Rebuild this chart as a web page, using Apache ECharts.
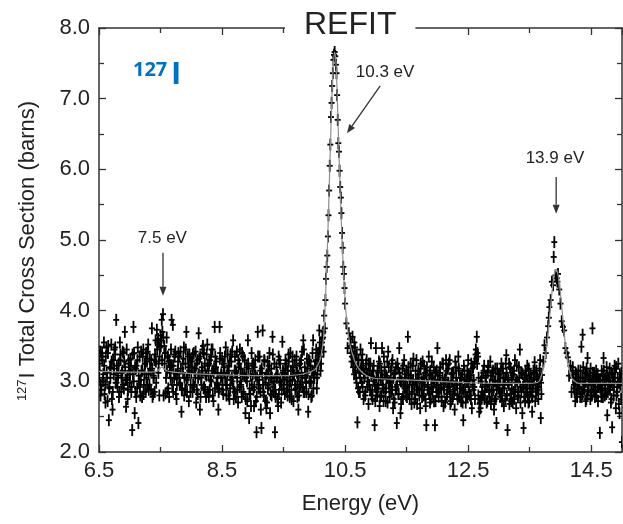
<!DOCTYPE html>
<html><head><meta charset="utf-8">
<script src="https://cdn.jsdelivr.net/npm/echarts@6/dist/echarts.min.js"></script>
<style>html,body{margin:0;padding:0;background:#fff}#c{width:623px;height:524px}</style>
</head><body><div id="c"></div>
<script>
// ---------- DATA (energy eV, total cross section barns) ----------
const measuredLow = [
[6.50,3.05],[6.52,3.42],[6.54,2.88],[6.56,3.30],[6.58,3.55],[6.60,2.95],[6.62,3.48],[6.64,2.72],[6.66,2.45],[6.68,3.20],
[6.70,3.52],[6.72,2.60],[6.74,3.10],[6.76,3.38],[6.78,3.87],[6.80,2.92],[6.82,3.25],[6.84,3.55],[6.86,2.85],[6.88,3.15],
[6.90,3.40],[6.92,3.70],[6.94,2.64],[6.96,3.05],[6.98,3.30],
[7.00,2.98],[7.02,3.22],[7.04,2.31],[7.06,3.77],[7.08,2.55],[7.10,3.18],[7.12,2.90],[7.14,2.41],[7.16,3.35],[7.18,3.02],
[7.20,2.78],[7.22,3.45],[7.24,3.10],[7.26,2.85],[7.28,3.28],[7.30,3.52],[7.32,2.95],[7.34,3.15],[7.36,3.75],[7.38,2.82],
[7.40,3.30],[7.42,3.58],[7.44,3.73],[7.46,3.60],[7.48,2.80],
[7.50,3.65],[7.52,3.87],[7.54,3.95],[7.56,3.50],[7.58,2.83],[7.60,3.62],[7.62,3.35],[7.64,2.78],[7.66,3.20],[7.68,3.87],
[7.70,3.80],[7.72,3.05],[7.74,3.42],[7.76,2.75],[7.78,3.15],[7.80,3.35],[7.82,2.95],[7.84,2.57],[7.86,3.25],[7.88,3.48],
[7.90,2.88],[7.92,3.70],[7.94,3.05],[7.96,2.72],[7.98,3.30],
[8.00,3.12],[8.02,2.85],[8.04,3.40],[8.06,3.18],[8.08,2.70],[8.10,3.30],[8.12,3.68],[8.14,2.60],[8.16,3.05],[8.18,3.45],
[8.20,2.90],[8.22,3.25],[8.24,2.78],[8.26,3.52],[8.28,3.10],[8.30,2.88],[8.32,3.35],[8.34,3.15],[8.36,2.72],[8.38,3.77],
[8.40,3.20],[8.42,2.95],[8.44,2.60],[8.46,3.77],[8.48,3.05],
[8.50,3.30],[8.52,2.82],[8.54,3.12],[8.56,3.48],[8.58,2.95],[8.60,3.22],[8.62,2.75],[8.64,3.38],[8.66,3.05],[8.68,3.58],
[8.70,2.85],[8.72,3.15],[8.74,3.42],[8.76,2.70],[8.78,3.25],[8.80,3.00],[8.82,2.78],[8.84,3.35],[8.86,3.08],[8.88,2.55],
[8.90,3.20],[8.92,3.58],[8.94,2.48],[8.96,2.82],[8.98,3.40],
[9.00,3.10],[9.02,2.65],[9.04,3.30],[9.06,2.28],[9.08,3.70],[9.10,2.90],[9.12,3.15],[9.14,2.34],[9.16,3.72],[9.18,2.80],
[9.20,3.05],[9.22,2.62],[9.24,3.28],[9.26,2.95],[9.28,2.55],[9.30,3.18],[9.32,3.63],[9.34,2.85],[9.36,2.28],[9.38,3.05],
[9.40,2.75],[9.42,3.35],[9.44,2.98],[9.46,2.70],[9.48,3.56],
[9.50,3.10],[9.52,2.82],[9.54,3.25],[9.56,2.95],[9.58,3.38],[9.60,2.78],[9.62,3.15],[9.64,3.02],[9.66,2.72],[9.68,3.30],
[9.70,2.90],[9.72,3.12],[9.74,2.60],[9.76,3.25],[9.78,2.95],[9.80,3.42],[9.82,3.58],[9.84,2.85],[9.86,3.08],[9.88,3.32],
[9.90,2.57],[9.92,3.00],[9.94,3.22],[9.96,2.80],[9.98,3.58],
[10.00,3.05],[10.02,3.28],[10.04,2.90],[10.06,3.40],[10.08,3.72],[10.10,3.15],[10.12,3.48],[10.14,3.62],[10.16,3.93],[10.18,4.15]
];
const measuredLowOdd = [
[6.51,3.25],[6.53,2.95],[6.55,3.40],[6.57,3.10],[6.59,2.82],[6.61,3.35],[6.63,3.05],[6.65,3.50],[6.67,2.90],[6.69,3.18],
[6.71,2.75],[6.73,3.30],[6.75,3.45],[6.77,2.98],[6.79,3.22],[6.81,3.08],[6.83,2.85],[6.85,3.38],[6.87,3.12],[6.89,2.95],
[6.91,3.28],[6.93,3.02],[6.95,3.45],[6.97,2.88],[6.99,3.15],
[7.01,3.32],[7.03,2.92],[7.05,3.10],[7.07,3.40],[7.09,2.85],[7.11,3.22],[7.13,3.48],[7.15,3.00],[7.17,2.80],[7.19,3.15],
[7.21,3.35],[7.23,2.95],[7.25,3.25],[7.27,3.05],[7.29,3.42],[7.31,2.88],[7.33,3.18],[7.35,3.30],[7.37,2.78],[7.39,3.08],
[7.41,3.38],[7.43,2.98],[7.45,3.55],[7.47,3.25],[7.49,3.48],
[7.51,3.58],[7.53,3.70],[7.55,2.80],[7.57,3.40],[7.59,3.05],[7.61,2.85],[7.63,3.28],[7.65,3.12],[7.67,3.45],[7.69,2.95],
[7.71,3.22],[7.73,3.35],[7.75,2.82],[7.77,3.10],[7.79,3.40],[7.81,2.98],[7.83,3.18],[7.85,2.90],[7.87,3.32],[7.89,3.05],
[7.91,3.45],[7.93,2.85],[7.95,3.20],[7.97,3.38],[7.99,2.95],
[8.01,3.28],[8.03,2.95],[8.05,3.15],[8.07,3.42],[8.09,2.88],[8.11,3.05],[8.13,3.32],[8.15,2.78],[8.17,3.20],[8.19,3.50],
[8.21,2.92],[8.23,3.10],[8.25,3.38],[8.27,2.85],[8.29,3.25],[8.31,3.02],[8.33,3.45],[8.35,2.80],[8.37,3.18],[8.39,3.35],
[8.41,2.98],[8.43,3.12],[8.45,2.90],[8.47,3.40],[8.49,3.08],
[8.51,2.95],[8.53,3.25],[8.55,3.05],[8.57,2.80],[8.59,3.38],[8.61,3.15],[8.63,2.90],[8.65,3.28],[8.67,3.00],[8.69,2.75],
[8.71,3.35],[8.73,3.12],[8.75,2.88],[8.77,3.20],[8.79,3.45],[8.81,2.95],[8.83,3.10],[8.85,2.82],[8.87,3.30],[8.89,3.05],
[8.91,2.72],[8.93,3.18],[8.95,2.90],[8.97,2.65],[8.99,3.22],
[9.01,2.88],[9.03,3.20],[9.05,2.72],[9.07,3.05],[9.09,2.95],[9.11,3.35],[9.13,2.60],[9.15,3.12],[9.17,2.85],[9.19,3.28],
[9.21,2.98],[9.23,2.70],[9.25,3.15],[9.27,3.40],[9.29,2.82],[9.31,3.05],[9.33,2.92],[9.35,3.25],[9.37,2.78],[9.39,3.10],
[9.41,2.65],[9.43,3.30],[9.45,3.00],[9.47,2.88],[9.49,3.15],
[9.51,3.02],[9.53,3.30],[9.55,2.85],[9.57,3.15],[9.59,2.95],[9.61,3.40],[9.63,2.75],[9.65,3.20],[9.67,3.08],[9.69,2.88],
[9.71,3.35],[9.73,3.00],[9.75,2.80],[9.77,3.25],[9.79,3.12],[9.81,2.92],[9.83,3.45],[9.85,3.05],[9.87,2.85],[9.89,3.18],
[9.91,3.30],[9.93,2.98],[9.95,2.78],[9.97,3.40],[9.99,3.10],
[10.01,3.20],[10.03,3.45],[10.05,3.10],[10.07,3.30],[10.09,3.55],[10.11,3.25],[10.13,3.60],[10.15,3.42],[10.17,3.75]
];
const measuredLowMid = [
[6.505,3.15],[6.525,2.80],[6.545,3.35],[6.565,3.00],[6.585,3.22],[6.605,2.70],[6.625,3.12],[6.645,3.40],[6.665,2.92],[6.685,3.05],
[6.705,3.28],[6.725,2.85],[6.745,3.18],[6.765,3.48],[6.785,2.98],[6.805,3.12],[6.825,2.78],[6.845,3.30],[6.865,3.05],[6.885,3.42],
[6.905,2.90],[6.925,3.20],[6.945,3.02],[6.965,2.75],[6.985,3.25],
[7.005,3.10],[7.025,2.85],[7.045,3.38],[7.065,3.00],[7.085,3.20],[7.105,2.78],[7.125,3.30],[7.145,3.08],[7.165,2.92],[7.185,3.42],
[7.205,3.15],[7.225,2.82],[7.245,3.25],[7.265,3.40],[7.285,2.95],[7.305,3.10],[7.325,3.32],[7.345,2.88],[7.365,3.18],[7.385,3.05],
[7.405,2.85],[7.425,3.28],[7.445,3.45],[7.465,3.12],[7.485,3.35],
[7.505,3.50],[7.525,3.30],[7.545,3.62],[7.565,3.25],[7.585,3.40],[7.605,3.15],[7.625,2.90],[7.645,3.30],[7.665,3.05],[7.685,3.22],
[7.705,2.85],[7.725,3.38],[7.745,3.10],[7.765,2.95],[7.785,3.28],[7.805,3.05],[7.825,3.42],[7.845,2.88],[7.865,3.12],[7.885,2.80],
[7.905,3.25],[7.925,3.02],[7.945,3.35],[7.965,3.15],[7.985,2.85],
[8.005,3.20],[8.025,3.38],[8.045,2.92],[8.065,3.05],[8.085,3.25],[8.105,2.82],[8.125,3.10],[8.145,3.35],[8.165,2.95],[8.185,3.15],
[8.205,3.40],[8.225,2.88],[8.245,3.08],[8.265,3.22],[8.285,2.78],[8.305,3.30],[8.325,3.00],[8.345,3.45],[8.365,3.12],[8.385,2.90],
[8.405,3.28],[8.425,3.05],[8.445,2.85],[8.465,3.32],[8.485,3.10],
[8.505,2.88],[8.525,3.20],[8.545,3.35],[8.565,2.95],[8.585,3.12],[8.605,2.80],[8.625,3.28],[8.645,3.02],[8.665,3.42],[8.685,2.90],
[8.705,3.15],[8.725,2.78],[8.745,3.05],[8.765,3.30],[8.785,2.92],[8.805,3.18],[8.825,3.40],[8.845,2.85],[8.865,3.10],[8.885,2.75],
[8.905,3.00],[8.925,3.25],[8.945,2.82],[8.965,3.08],[8.985,2.95],
[9.005,3.25],[9.025,2.92],[9.045,3.08],[9.065,2.78],[9.085,3.35],[9.105,3.02],[9.125,2.85],[9.145,3.18],[9.165,2.95],[9.185,3.30],
[9.205,2.72],[9.225,3.10],[9.245,2.90],[9.265,3.22],[9.285,3.05],[9.305,2.80],[9.325,3.38],[9.345,3.00],[9.365,2.88],[9.385,3.20],
[9.405,3.08],[9.425,2.82],[9.445,3.25],[9.465,2.95],[9.485,3.12],
[9.505,2.90],[9.525,3.18],[9.545,3.05],[9.565,2.80],[9.585,3.28],[9.605,3.00],[9.625,2.88],[9.645,3.35],[9.665,3.10],[9.685,2.95],
[9.705,3.22],[9.725,2.78],[9.745,3.08],[9.765,2.92],[9.785,3.30],[9.805,3.05],[9.825,2.85],[9.845,3.20],[9.865,2.98],[9.885,3.12],
[9.905,2.82],[9.925,3.28],[9.945,3.00],[9.965,3.15],[9.985,2.90],
[10.005,3.12],[10.025,3.30],[10.045,3.05],[10.065,3.25],[10.085,3.45],[10.105,3.35],[10.125,3.55],[10.145,3.70]
];
const measuredPeak103 = [
[10.19,4.45],[10.20,4.62],[10.21,4.78],[10.22,5.05],[10.23,5.35],[10.24,5.70],[10.25,6.05],[10.26,6.35],[10.27,6.74],[10.28,6.94],
[10.29,7.18],[10.30,7.36],[10.31,7.55],[10.32,7.62],[10.33,7.66],[10.34,7.60],[10.35,7.48],[10.36,7.36],[10.37,7.05],[10.38,6.70],
[10.39,6.37],[10.40,6.25],[10.41,5.98],[10.42,5.75],[10.43,5.60],[10.44,5.38],[10.45,5.10],[10.46,4.89],[10.47,4.62],[10.48,4.52],
[10.49,4.32],[10.50,4.10],[10.52,3.82],[10.54,3.47],[10.56,3.68],[10.58,3.60]
];
const measuredMid = [
[10.60,3.40],[10.62,3.63],[10.64,3.25],[10.66,3.48],[10.68,3.05],[10.70,2.42],[10.72,3.30],[10.74,2.85],[10.76,3.18],[10.78,3.38],
[10.80,2.75],[10.82,3.10],[10.84,3.25],[10.86,2.92],[10.88,2.68],[10.90,3.15],[10.92,3.54],[10.94,2.88],[10.96,3.05],[10.98,2.38],
[11.00,3.47],[11.02,2.80],[11.04,3.12],[11.06,2.65],[11.08,3.02],[11.10,3.47],[11.12,2.90],[11.14,3.20],[11.16,2.72],[11.18,3.05],
[11.20,3.42],[11.22,2.85],[11.24,2.98],[11.26,3.25],[11.28,2.62],[11.30,3.10],[11.32,2.88],[11.34,2.41],[11.36,3.18],[11.38,3.47],
[11.40,2.55],[11.42,3.00],[11.44,2.78],[11.46,3.30],[11.48,2.92],
[11.50,3.15],[11.52,3.63],[11.54,2.82],[11.56,3.05],[11.58,2.68],[11.60,3.22],[11.62,2.95],[11.64,2.75],[11.66,3.30],[11.68,2.88],
[11.70,3.10],[11.72,2.62],[11.74,3.00],[11.76,3.28],[11.78,2.80],[11.80,3.12],[11.82,2.38],[11.84,2.92],[11.86,3.35],[11.88,2.70],
[11.90,3.05],[11.92,2.85],[11.94,3.20],[11.96,2.38],[11.98,2.95],
[12.00,3.47],[12.02,2.78],[12.04,3.08],[12.06,2.90],[12.08,3.25],[12.10,2.65],[12.12,3.02],[12.14,3.30],[12.16,2.82],[12.18,2.98],
[12.20,3.30],[12.22,2.72],[12.24,3.12],[12.26,2.88],[12.28,2.60],[12.30,3.20],[12.32,2.95],[12.34,3.35],[12.36,2.78],[12.38,3.05],
[12.40,2.88],[12.42,2.45],[12.44,3.15],[12.46,2.70],[12.48,3.00],
[12.50,3.30],[12.52,2.85],[12.54,3.08],[12.56,2.62],[12.58,3.20],[12.60,2.92],[12.62,3.38],[12.64,3.63],[12.66,3.35],[12.68,2.57],
[12.70,2.62],[12.72,3.05],[12.74,2.80],[12.76,3.22],[12.78,2.95],[12.80,2.70],[12.82,3.15],[12.84,2.88],[12.86,3.28],[12.88,2.75],
[12.90,3.02],[12.92,2.60],[12.94,3.18],[12.96,2.41],[12.98,2.95],
[13.00,3.10],[13.02,2.78],[13.04,3.25],[13.06,2.90],[13.08,2.65],[13.10,3.05],[13.12,3.37],[13.14,2.31],[13.16,2.95],[13.18,3.20],
[13.20,2.72],[13.22,3.08],[13.24,2.85],[13.26,3.30],[13.28,2.62],[13.30,3.00],[13.32,2.80],[13.34,3.45],[13.36,3.12],[13.38,2.55],
[13.40,2.34],[13.42,3.05],[13.44,2.90],[13.46,3.22],[13.48,2.70],
[13.50,3.00],[13.52,2.85],[13.54,2.57],[13.56,3.15],[13.58,3.27],[13.60,2.90],[13.62,3.05],[13.64,2.75],[13.66,3.18],[13.68,2.48]
];
const measuredMidOdd = [
[10.59,3.50],[10.61,3.35],[10.63,3.20],[10.65,3.55],[10.67,3.15],[10.69,3.38],[10.71,2.90],[10.73,3.12],[10.75,3.45],[10.77,2.98],
[10.79,3.22],[10.81,3.05],[10.83,2.85],[10.85,3.30],[10.87,3.10],[10.89,2.95],[10.91,3.25],[10.93,2.80],[10.95,3.15],[10.97,3.00],
[10.99,2.72],
[11.01,3.05],[11.03,2.90],[11.05,3.28],[11.07,2.78],[11.09,3.15],[11.11,2.95],[11.13,3.35],[11.15,2.85],[11.17,3.08],[11.19,2.70],
[11.21,3.20],[11.23,3.00],[11.25,2.88],[11.27,3.30],[11.29,2.75],[11.31,3.12],[11.33,2.92],[11.35,3.25],[11.37,2.82],[11.39,3.05],
[11.41,2.68],[11.43,3.18],[11.45,2.95],[11.47,3.10],[11.49,2.80],
[11.51,2.92],[11.53,3.20],[11.55,2.75],[11.57,3.08],[11.59,2.95],[11.61,3.32],[11.63,2.82],[11.65,3.02],[11.67,2.68],[11.69,3.15],
[11.71,2.90],[11.73,3.25],[11.75,2.78],[11.77,3.05],[11.79,2.95],[11.81,2.65],[11.83,3.20],[11.85,2.88],[11.87,3.10],[11.89,2.75],
[11.91,3.28],[11.93,2.92],[11.95,3.00],[11.97,2.72],[11.99,3.15],
[12.01,2.85],[12.03,3.12],[12.05,2.95],[12.07,2.72],[12.09,3.25],[12.11,2.88],[12.13,3.05],[12.15,2.78],[12.17,3.18],[12.19,2.92],
[12.21,2.68],[12.23,3.10],[12.25,3.00],[12.27,2.82],[12.29,3.28],[12.31,2.95],[12.33,2.75],[12.35,3.15],[12.37,2.90],[12.39,3.05],
[12.41,2.70],[12.43,3.22],[12.45,2.85],[12.47,3.00],[12.49,2.78],
[12.51,3.10],[12.53,2.80],[12.55,3.25],[12.57,2.95],[12.59,3.02],[12.61,2.75],[12.63,3.32],[12.65,3.40],[12.67,3.05],[12.69,2.70],
[12.71,2.78],[12.73,2.92],[12.75,3.15],[12.77,2.85],[12.79,3.08],[12.81,2.72],[12.83,3.20],[12.85,2.95],[12.87,2.68],[12.89,3.12],
[12.91,2.88],[12.93,3.00],[12.95,2.75],[12.97,3.18],[12.99,2.90],
[13.01,2.88],[13.03,3.15],[13.05,2.72],[13.07,3.05],[13.09,2.95],[13.11,3.25],[13.13,2.80],[13.15,3.02],[13.17,2.68],[13.19,3.18],
[13.21,2.90],[13.23,3.10],[13.25,2.75],[13.27,2.98],[13.29,3.22],[13.31,2.85],[13.33,3.05],[13.35,2.70],[13.37,3.12],[13.39,2.92],
[13.41,2.78],[13.43,3.15],[13.45,2.85],[13.47,3.00],[13.49,2.72],
[13.51,3.10],[13.53,2.80],[13.55,2.95],[13.57,3.05],[13.59,2.72],[13.61,3.15],[13.63,2.88],[13.65,3.00],[13.67,3.30],[13.69,2.82]
];
const measuredMidMid = [
[10.605,3.28],[10.625,3.42],[10.645,3.10],[10.665,3.32],[10.685,2.98],[10.705,3.20],[10.725,2.85],[10.745,3.05],[10.765,3.30],[10.785,2.92],
[10.805,3.12],[10.825,2.80],[10.845,3.18],[10.865,3.00],[10.885,3.25],[10.905,2.88],[10.925,3.08],[10.945,2.75],[10.965,3.22],[10.985,2.95],
[11.005,2.85],[11.025,3.15],[11.045,2.95],[11.065,3.25],[11.085,2.80],[11.105,3.05],[11.125,2.72],[11.145,3.10],[11.165,2.90],[11.185,3.28],
[11.205,2.98],[11.225,2.78],[11.245,3.15],[11.265,2.88],[11.285,3.05],[11.305,2.70],[11.325,3.20],[11.345,2.95],[11.365,2.82],[11.385,3.12],
[11.405,3.00],[11.425,2.75],[11.445,3.22],[11.465,2.90],[11.485,3.05],
[11.505,2.78],[11.525,3.10],[11.545,2.95],[11.565,3.25],[11.585,2.85],[11.605,3.02],[11.625,2.70],[11.645,3.15],[11.665,2.92],[11.685,3.05],
[11.705,2.80],[11.725,3.18],[11.745,2.88],[11.765,2.98],[11.785,3.22],[11.805,2.75],[11.825,3.08],[11.845,2.95],[11.865,2.82],[11.885,3.15],
[11.905,2.90],[11.925,3.05],[11.945,2.72],[11.965,3.12],[11.985,2.85],
[12.005,3.02],[12.025,2.88],[12.045,3.20],[12.065,2.78],[12.085,3.05],[12.105,2.92],[12.125,2.70],[12.145,3.15],[12.165,2.95],[12.185,3.25],
[12.205,2.85],[12.225,3.00],[12.245,2.75],[12.265,3.12],[12.285,2.90],[12.305,3.05],[12.325,2.80],[12.345,3.18],[12.365,2.98],[12.385,2.72],
[12.405,3.10],[12.425,2.88],[12.445,3.02],[12.465,2.78],[12.485,3.15],
[12.505,2.92],[12.525,3.05],[12.545,2.75],[12.565,3.18],[12.585,2.88],[12.605,3.28],[12.625,3.45],[12.645,3.25],[12.665,2.80],[12.685,2.68],
[12.705,3.00],[12.725,2.85],[12.745,3.12],[12.765,2.75],[12.785,3.05],[12.805,2.92],[12.825,3.22],[12.845,2.78],[12.865,3.08],[12.885,2.85],
[12.905,3.15],[12.925,2.72],[12.945,3.00],[12.965,2.88],[12.985,3.10],
[13.005,2.95],[13.025,3.05],[13.045,2.80],[13.065,3.18],[13.085,2.90],[13.105,2.75],[13.125,3.12],[13.145,2.98],[13.165,3.25],[13.185,2.82],
[13.205,3.05],[13.225,2.70],[13.245,3.15],[13.265,2.88],[13.285,3.02],[13.305,2.78],[13.325,3.20],[13.345,2.92],[13.365,2.85],[13.385,3.10],
[13.405,2.95],[13.425,2.72],[13.445,3.08],[13.465,2.82],[13.485,3.18],
[13.505,2.90],[13.525,3.05],[13.545,2.78],[13.565,2.95],[13.585,3.12],[13.605,2.85],[13.625,3.02],[13.645,2.92],[13.665,3.10],[13.685,2.98]
];
const measuredPeak139 = [
[13.70,3.09],[13.72,3.28],[13.74,3.51],[13.76,3.40],[13.78,3.62],[13.80,3.78],[13.81,3.90],[13.82,4.05],[13.84,4.15],[13.86,4.41],
[13.88,4.36],[13.89,4.76],[13.90,4.97],[13.92,4.50],[13.94,4.46],[13.95,4.41],[13.96,4.52],[13.98,4.30],[14.00,4.10],[14.02,3.85],
[14.04,3.77],[14.06,3.72],[14.08,3.47],[14.10,3.40],[14.12,3.34],[14.14,3.08],[14.16,3.22],[14.18,2.85]
];
const measuredHigh = [
[14.20,3.20],[14.22,2.95],[14.24,2.72],[14.26,3.10],[14.28,2.88],[14.30,3.00],[14.32,2.78],[14.34,3.49],[14.36,3.66],[14.38,2.92],
[14.40,3.12],[14.42,2.75],[14.44,3.33],[14.46,2.95],[14.48,3.05],
[14.50,2.85],[14.52,3.75],[14.54,3.08],[14.56,2.78],[14.58,3.15],[14.60,2.92],[14.62,3.02],[14.64,2.27],[14.66,2.88],[14.68,3.10],
[14.70,3.33],[14.72,2.80],[14.74,3.05],[14.76,2.52],[14.78,2.95],[14.80,3.18],[14.82,2.70],[14.84,2.35],[14.86,3.00],[14.88,3.22],
[14.90,2.62],[14.92,2.92],[14.94,3.25],[14.96,2.55],[14.98,3.05],[15.00,2.14]
];
const measuredHighOdd = [
[14.19,3.15],[14.21,3.05],[14.23,2.85],[14.25,3.00],[14.27,2.78],[14.29,3.15],[14.31,2.90],[14.33,3.05],[14.35,2.82],[14.37,3.20],
[14.39,2.95],[14.41,2.72],[14.43,3.10],[14.45,2.88],[14.47,3.02],[14.49,3.18],[14.51,2.80],[14.53,2.95],[14.55,3.12],[14.57,2.85],
[14.59,3.05],[14.61,2.72],[14.63,3.00],[14.65,2.90],[14.67,3.15],[14.69,2.78],[14.71,3.02],[14.73,2.88],[14.75,3.20],[14.77,2.85],
[14.79,3.05],[14.81,2.95],[14.83,2.75],[14.85,3.10],[14.87,2.92],[14.89,3.18],[14.91,2.80],[14.93,3.05],[14.95,2.68],[14.97,2.95],
[14.99,3.12]
];
const measuredHighMid = [
[14.205,3.05],[14.225,2.90],[14.245,3.12],[14.265,2.82],[14.285,3.00],[14.305,2.92],[14.325,3.15],[14.345,2.78],[14.365,3.05],[14.385,2.88],
[14.405,3.00],[14.425,3.18],[14.445,2.85],[14.465,3.08],[14.485,2.75],[14.505,2.98],[14.525,3.12],[14.545,2.88],[14.565,3.00],[14.585,2.80],
[14.605,3.10],[14.625,2.92],[14.645,3.02],[14.665,2.78],[14.685,2.95],[14.705,3.15],[14.725,2.90],[14.745,2.82],[14.765,3.08],[14.785,3.00],
[14.805,2.88],[14.825,3.12],[14.845,2.95],[14.865,2.80],[14.885,3.05],[14.905,3.20],[14.925,2.85],[14.945,2.98],[14.965,3.10],[14.985,2.75]
];
const errBar = 0.085; // barns, half-length of the error bars

const fitCurve = [
[6.50,3.14],[7.00,3.13],[7.35,3.13],[7.45,3.15],[7.52,3.20],[7.60,3.15],[7.70,3.13],[8.00,3.11],[8.50,3.09],[9.00,3.08],
[9.50,3.08],[9.80,3.10],[10.00,3.16],[10.05,3.22],[10.10,3.32],[10.12,3.42],[10.15,3.62],[10.17,3.95],[10.19,4.40],[10.21,4.85],
[10.23,5.40],[10.25,6.00],[10.27,6.60],[10.29,7.15],[10.31,7.50],[10.33,7.66],[10.35,7.52],[10.37,7.10],[10.39,6.50],[10.41,5.95],
[10.43,5.45],[10.45,5.00],[10.47,4.62],[10.49,4.30],[10.51,4.02],[10.54,3.75],[10.57,3.56],[10.62,3.38],[10.68,3.24],[10.75,3.15],
[10.85,3.08],[11.00,3.04],[11.50,3.02],[12.00,3.00],[12.50,2.98],[13.00,2.97],[13.50,2.97],[13.60,2.98],[13.65,3.00],[13.68,3.05],
[13.73,3.21],[13.755,3.34],[13.78,3.52],[13.805,3.73],[13.83,3.97],[13.855,4.20],[13.88,4.40],[13.905,4.53],[13.93,4.58],[13.955,4.53],
[13.98,4.40],[14.005,4.20],[14.03,3.97],[14.055,3.73],[14.08,3.52],[14.105,3.34],[14.13,3.21],[14.18,3.05],[14.23,3.00],[14.30,2.97],
[15.00,2.97]
];

const annotationLabels = ['7.5 eV', '10.3 eV', '13.9 eV'];
const annotationTextAt = [[7.53, 5.03], [11.15, 7.38], [13.91, 6.16]];
const arrowFrom = [[7.54, 4.82], [11.07, 7.18], [13.93, 5.89]];
const arrowTo = [[7.54, 4.21], [10.53, 6.51], [13.93, 5.37]];

// ---------- CHART ----------
const FONT = '"Liberation Sans", Arial, sans-serif';
const measured = [].concat(measuredLow, measuredLowOdd, measuredLowMid, measuredPeak103, measuredMid, measuredMidOdd,
  measuredMidMid, measuredPeak139, measuredHigh, measuredHighOdd, measuredHighMid);
const chart = echarts.init(document.getElementById('c'), null, {renderer: 'canvas'});

const axisLine = {show: true, lineStyle: {color: '#333', width: 1.5}};
const xCommon = {type: 'value', min: 6.5, max: 15, interval: 2, splitLine: {show: false},
  axisLine: axisLine, axisTick: {inside: true, length: 7, lineStyle: {color: '#333', width: 1.3}},
  minorTick: {show: true, splitNumber: 2, length: 5, lineStyle: {color: '#333', width: 1.3}}};
const yCommon = {type: 'value', min: 2, max: 8, interval: 1, splitLine: {show: false},
  axisLine: axisLine, axisTick: {inside: true, length: 7, lineStyle: {color: '#333', width: 1.3}},
  minorTick: {show: true, splitNumber: 2, length: 5, lineStyle: {color: '#333', width: 1.3}}};

chart.setOption({
  animation: false,
  backgroundColor: '#fff',
  title: {text: 'REFIT', left: 285, top: 6, padding: [3, 19, 3, 19], backgroundColor: '#fff', z: 20,
    textStyle: {fontFamily: FONT, fontSize: 32, fontWeight: 'normal', color: '#222'}},
  grid: {left: 99, right: 1, top: 28, bottom: 72},
  xAxis: [
    Object.assign({}, xCommon, {position: 'bottom', name: 'Energy (eV)', nameLocation: 'middle', nameGap: 41,
      nameTextStyle: {fontFamily: FONT, fontSize: 22, color: '#222'},
      axisLabel: {fontFamily: FONT, fontSize: 22, color: '#222', margin: 8, showMaxLabel: false,
        formatter: v => v.toFixed(1)}}),
    Object.assign({}, xCommon, {position: 'top', axisLabel: {show: false}})
  ],
  yAxis: [
    Object.assign({}, yCommon, {position: 'left', name: '{sup|127}I Total Cross Section (barns)', nameLocation: 'middle', nameGap: 59,
      nameTextStyle: {fontFamily: FONT, fontSize: 22, color: '#222', padding: [0, 22, 0, 0],
        rich: {sup: {fontFamily: FONT, fontSize: 13, color: '#222', verticalAlign: 'top', padding: [0, 1, 11, 0]}}},
      axisLabel: {fontFamily: FONT, fontSize: 22, color: '#222', margin: 9, formatter: v => v.toFixed(1)}}),
    Object.assign({}, yCommon, {position: 'right', axisLabel: {show: false}})
  ],
  series: [
    {type: 'custom', name: 'measured', data: measured, z: 2, clip: true,
      renderItem: function (params, api) {
        const e = api.value(0), s = api.value(1);
        const c = api.coord([e, s]);
        const t = api.coord([e, s + errBar]);
        const b = api.coord([e, s - errBar]);
        const st = {stroke: '#000', lineWidth: 1.8};
        return {type: 'group', children: [
          {type: 'line', shape: {x1: c[0], y1: t[1], x2: c[0], y2: b[1]}, style: st},
          {type: 'line', shape: {x1: c[0] - 3, y1: c[1], x2: c[0] + 3, y2: c[1]}, style: st}
        ]};
      }},
    {type: 'line', name: 'fit', data: fitCurve, showSymbol: false, smooth: 0.3, z: 4,
      lineStyle: {color: '#8f8f8f', width: 1.2}}
  ]
});

// annotations placed through the axes' scales
const px = p => chart.convertToPixel({xAxisIndex: 0, yAxisIndex: 0}, p);
const graphics = [];
annotationLabels.forEach((txt, i) => {
  const tp = px(annotationTextAt[i]);
  graphics.push({type: 'text', x: tp[0], y: tp[1], z: 30,
    style: {text: txt, font: '17px ' + FONT, fill: '#222', align: 'center', verticalAlign: 'middle'}});
  const a = px(arrowFrom[i]), b = px(arrowTo[i]);
  const dx = b[0] - a[0], dy = b[1] - a[1], L = Math.hypot(dx, dy), ux = dx / L, uy = dy / L;
  const hl = 9, hw = 3.5;
  const base = [b[0] - ux * hl, b[1] - uy * hl];
  graphics.push({type: 'line', z: 30, shape: {x1: a[0], y1: a[1], x2: base[0], y2: base[1]},
    style: {stroke: '#333', lineWidth: 1.3}});
  graphics.push({type: 'polygon', z: 30, shape: {points: [[b[0], b[1]],
    [base[0] - uy * hw, base[1] + ux * hw], [base[0] + uy * hw, base[1] - ux * hw]]},
    style: {fill: '#333'}});
});
// isotope tag "127I"
graphics.push({type: 'text', x: 133, y: 70, z: 30,
  style: {text: '127', font: 'bold 20px "Open Sans", sans-serif', fill: '#0070C0', align: 'left', verticalAlign: 'middle'}});
graphics.push({type: 'text', x: 171, y: 75, z: 30,
  style: {text: 'I', font: 'bold 31px "Open Sans", sans-serif', fill: '#0070C0', align: 'left', verticalAlign: 'middle'}});
chart.setOption({graphic: graphics});
</script>
</body></html>
